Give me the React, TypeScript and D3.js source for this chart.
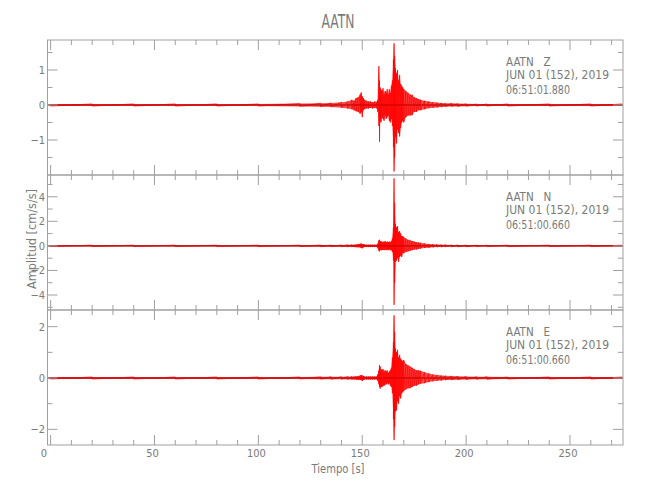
import React from "react";
import * as d3 from "d3";

// ---------- data ----------
const STATION = "AATN";
const COMPONENTS = ["Z", "N", "E"];
const DATE_LINE = "JUN 01 (152), 2019";
const START_TIMES = ["06:51:01.880", "06:51:00.660", "06:51:00.660"];

// sample times (s) at which the trace envelope was read
const TIME = [
  0, 20, 40, 60, 80, 100, 120, 130, 135, 140, 143, 145, 146, 147, 148, 149, 149.5, 150, 150.5, 151,
  152, 153, 154, 155, 156, 157, 157.5, 158, 158.3, 158.6, 159, 159.5, 160, 160.5, 161, 161.5, 162,
  162.5, 163, 163.5, 164, 164.5, 165, 165.3, 165.6, 166, 166.5, 167, 167.5, 168, 168.5, 169, 169.5,
  170, 171, 172, 173, 174, 175, 176, 177, 178, 180, 182, 184, 186, 188, 190, 193, 196, 200, 205,
  210, 220, 240, 260, 275,
];

// Z component envelope (cm/s/s)
const Z_UP = [
  0.03, 0.03, 0.03, 0.03, 0.03, 0.03, 0.04, 0.05, 0.06, 0.08, 0.1, 0.15, 0.12, 0.2, 0.22, 0.3, 0.36, 0.25, 0.2, 0.15,
  0.12, 0.1, 0.1, 0.08, 0.1, 0.09, 0.15, 1.11, 0.7, 0.5, 0.45, 0.4, 0.48, 0.3, 0.4, 0.35, 0.45,
  0.3, 0.45, 0.35, 0.55, 0.7, 1.3, 1.76, 1.4, 1.05, 0.9, 1.0, 0.7, 0.86, 0.6, 0.55, 0.5,
  0.45, 0.4, 0.35, 0.3, 0.29, 0.22, 0.2, 0.17, 0.15, 0.12, 0.1, 0.08, 0.07, 0.06, 0.05, 0.05, 0.04, 0.035, 0.03,
  0.03, 0.03, 0.03, 0.03, 0.03,
];
const Z_LO = [
  -0.03, -0.03, -0.03, -0.03, -0.03, -0.03, -0.04, -0.05, -0.06, -0.08, -0.1, -0.12, -0.15, -0.18, -0.2, -0.25, -0.2, -0.35, -0.15, -0.12,
  -0.1, -0.1, -0.08, -0.1, -0.08, -0.1, -0.2, -0.6, -1.05, -0.45, -0.5, -0.35, -0.4, -0.45, -0.3, -0.4, -0.35,
  -0.3, -0.45, -0.5, -0.4, -0.6, -1.2, -1.9, -1.5, -0.9, -1.1, -0.7, -0.8, -0.9, -0.65, -0.5, -0.45,
  -0.5, -0.35, -0.3, -0.3, -0.29, -0.2, -0.2, -0.15, -0.15, -0.12, -0.09, -0.08, -0.07, -0.06, -0.05, -0.04, -0.04, -0.035, -0.03,
  -0.03, -0.03, -0.03, -0.03, -0.03,
];

// N component envelope
const N_UP = [
  0.06, 0.06, 0.06, 0.06, 0.06, 0.06, 0.06, 0.07, 0.07, 0.08, 0.09, 0.1, 0.1, 0.12, 0.15, 0.17, 0.2, 0.15, 0.13, 0.12,
  0.1, 0.1, 0.1, 0.1, 0.1, 0.1, 0.2, 0.45, 0.5, 0.35, 0.4, 0.3, 0.35, 0.3, 0.4, 0.3, 0.35,
  0.3, 0.35, 0.3, 0.4, 0.6, 1.5, 5.5, 3.5, 1.8, 1.5, 1.6, 1.1, 1.2, 1.0, 0.8, 0.8,
  0.7, 0.6, 0.5, 0.45, 0.4, 0.35, 0.3, 0.27, 0.25, 0.2, 0.16, 0.13, 0.12, 0.1, 0.1, 0.08, 0.08, 0.07, 0.06,
  0.06, 0.06, 0.06, 0.06, 0.06,
];
const N_LO = [
  -0.06, -0.06, -0.06, -0.06, -0.06, -0.06, -0.06, -0.07, -0.07, -0.08, -0.09, -0.1, -0.1, -0.11, -0.12, -0.14, -0.15, -0.2, -0.12, -0.1,
  -0.1, -0.1, -0.1, -0.1, -0.1, -0.1, -0.2, -0.4, -0.45, -0.3, -0.35, -0.35, -0.3, -0.35, -0.3, -0.35, -0.3,
  -0.35, -0.3, -0.35, -0.35, -0.5, -1.2, -4.8, -3.0, -1.3, -1.2, -1.0, -1.3, -0.9, -0.8, -0.9, -0.6,
  -0.6, -0.5, -0.45, -0.4, -0.35, -0.3, -0.3, -0.25, -0.22, -0.18, -0.15, -0.12, -0.1, -0.1, -0.08, -0.08, -0.08, -0.07, -0.06,
  -0.06, -0.06, -0.06, -0.06, -0.06,
];

// E component envelope
const E_UP = [
  0.04, 0.04, 0.04, 0.04, 0.04, 0.04, 0.04, 0.045, 0.05, 0.05, 0.055, 0.06, 0.06, 0.07, 0.08, 0.1, 0.12, 0.1, 0.08, 0.06,
  0.06, 0.06, 0.06, 0.06, 0.06, 0.06, 0.15, 0.3, 0.5, 0.45, 0.35, 0.3, 0.35, 0.25, 0.3, 0.25, 0.3,
  0.2, 0.25, 0.3, 0.4, 0.8, 1.4, 2.44, 1.8, 1.15, 1.0, 1.1, 0.8, 0.9, 0.75, 0.7, 0.65,
  0.7, 0.55, 0.5, 0.45, 0.4, 0.35, 0.3, 0.3, 0.28, 0.22, 0.18, 0.14, 0.12, 0.1, 0.09, 0.08, 0.07, 0.06, 0.05,
  0.05, 0.04, 0.04, 0.04, 0.04,
];
const E_LO = [
  -0.04, -0.04, -0.04, -0.04, -0.04, -0.04, -0.04, -0.045, -0.05, -0.05, -0.055, -0.06, -0.06, -0.07, -0.08, -0.08, -0.08, -0.12, -0.08, -0.06,
  -0.06, -0.06, -0.06, -0.06, -0.06, -0.06, -0.12, -0.25, -0.35, -0.41, -0.35, -0.35, -0.3, -0.3, -0.25, -0.25, -0.2,
  -0.25, -0.2, -0.3, -0.35, -0.6, -1.6, -2.42, -1.9, -1.3, -1.26, -0.9, -1.0, -0.7, -0.8, -0.6, -0.55,
  -0.5, -0.45, -0.4, -0.4, -0.35, -0.3, -0.3, -0.25, -0.22, -0.2, -0.16, -0.13, -0.11, -0.1, -0.08, -0.08, -0.07, -0.06, -0.05,
  -0.05, -0.04, -0.04, -0.04, -0.04,
];

const UPPERS = [Z_UP, N_UP, E_UP];
const LOWERS = [Z_LO, N_LO, E_LO];

// axis ranges / ticks
const X_DOMAIN = [-1.5, 275.5];
const X_TICKS = [0, 50, 100, 150, 200, 250];
const Y_DOMAINS = [
  [-2.0, 1.857],
  [-5.22, 5.77],
  [-2.61, 2.65],
];
const Y_TICKS = [
  [-1, 0, 1],
  [-4, -2, 0, 2, 4],
  [-2, 0, 2],
];
const Y_MINOR_STEP = [0.5, 1, 1];
const TITLE = "AATN";
const X_LABEL = "Tiempo [s]";
const Y_LABEL = "Amplitud [cm/s/s]";

// ---------- layout ----------
const W = 650;
const H = 500;
const LEFT = 47.5;
const RIGHT = 623;
const PANEL_TOP = [40, 175, 310];
const PANEL_H = 135;
const AXIS = "#a0a0a0";
const TXT = "#7a7a7a";
const FONT = "'Liberation Sans Narrow', 'DejaVu Sans Condensed', 'Roboto', sans-serif";

const fmt = (v: number) => (v < 0 ? "\u2212" + Math.abs(v) : String(v));

export default function App() {
  const x = d3.scaleLinear().domain(X_DOMAIN).range([LEFT, RIGHT]);
  const xMinor = d3.range(0, 276, 10);

  return (
    <svg
      width={W}
      height={H}
      style={{ position: "absolute", left: 0, top: 0, background: "#fff" }}
      fontFamily={FONT}
    >
      <text x={338} y={28} textAnchor="middle" fontSize={19} fill={TXT} textLength={33} lengthAdjust="spacingAndGlyphs">
        {TITLE}
      </text>

      {COMPONENTS.map((comp, p) => {
        const top = PANEL_TOP[p];
        const bot = top + PANEL_H;
        const y = d3.scaleLinear().domain(Y_DOMAINS[p]).range([bot, top]);
        const up = UPPERS[p];
        const lo = LOWERS[p];
        const pts = TIME.map((t, i) => ({ t, u: up[i], l: lo[i] }));
        const area = d3
          .area<{ t: number; u: number; l: number }>()
          .x((d) => x(d.t))
          .y0((d) => y(d.l))
          .y1((d) => y(d.u))(pts);
        const zig: [number, number][] = [];
        pts.forEach((d) => {
          zig.push([x(d.t), y(d.u)]);
          zig.push([x(d.t), y(d.l)]);
        });
        const zigPath = d3.line()(zig);
        const [d0, d1] = Y_DOMAINS[p];
        const step = Y_MINOR_STEP[p];
        const yMinor = d3
          .range(Math.ceil(d0 / step) * step, d1 + 1e-9, step)
          .filter((v) => Math.abs(v - Math.round(v / (step * 2)) * step * 2) > 1e-6);
        const clipId = `clip${p}`;
        return (
          <g key={comp}>
            <defs>
              <clipPath id={clipId}>
                <rect x={LEFT} y={top} width={RIGHT - LEFT} height={PANEL_H} />
              </clipPath>
            </defs>
            <g clipPath={`url(#${clipId})`}>
              <line x1={LEFT} x2={RIGHT} y1={y(0)} y2={y(0)} stroke="#5a0000" strokeWidth={1} />
              <path d={area || ""} fill="#ff0000" fillOpacity={0.7} stroke="none" />
              <path d={zigPath || ""} fill="none" stroke="#ff0000" strokeWidth={0.7} />
              <line x1={LEFT} x2={RIGHT} y1={y(0)} y2={y(0)} stroke="#400000" strokeWidth={0.5} strokeOpacity={0.5} />
            </g>
            {/* frame */}
            <rect x={LEFT} y={top} width={RIGHT - LEFT} height={PANEL_H} fill="none" stroke={AXIS} strokeWidth={1} />
            {/* x ticks top and bottom */}
            {xMinor.map((t) => {
              const len = t % 50 === 0 ? 10 : 5;
              return (
                <g key={`xt${t}`} stroke={AXIS}>
                  <line x1={x(t)} x2={x(t)} y1={top} y2={top + len} />
                  <line x1={x(t)} x2={x(t)} y1={bot} y2={bot - len} />
                </g>
              );
            })}
            {/* y ticks left and right */}
            {Y_TICKS[p].map((v) => (
              <g key={`yt${v}`}>
                <line x1={LEFT} x2={LEFT + 10} y1={y(v)} y2={y(v)} stroke={AXIS} />
                <line x1={RIGHT} x2={RIGHT - 10} y1={y(v)} y2={y(v)} stroke={AXIS} />
                <text x={45} y={y(v) + 4} textAnchor="end" fontSize={11} fill={TXT}>
                  {fmt(v)}
                </text>
              </g>
            ))}
            {yMinor.map((v) => (
              <g key={`ym${v}`} stroke={AXIS}>
                <line x1={LEFT} x2={LEFT + 5} y1={y(v)} y2={y(v)} />
                <line x1={RIGHT} x2={RIGHT - 5} y1={y(v)} y2={y(v)} />
              </g>
            ))}
            {/* annotation */}
            <g fontSize={11.5} fill={TXT}>
              <text x={506} y={top + 26} style={{ whiteSpace: "pre" }} xmlSpace="preserve">
                {`${STATION}   ${comp}`}
              </text>
              <text x={506} y={top + 39} textLength={103} lengthAdjust="spacingAndGlyphs">
                {DATE_LINE}
              </text>
              <text x={506} y={top + 54} textLength={64} lengthAdjust="spacingAndGlyphs">
                {START_TIMES[p]}
              </text>
            </g>
          </g>
        );
      })}

      {/* x tick labels */}
      {X_TICKS.map((t) => (
        <text key={`xl${t}`} x={t === 0 ? 44 : x(t) - 2} y={457} textAnchor="middle" fontSize={11} fill={TXT}>
          {t}
        </text>
      ))}
      <text x={338} y={473} textAnchor="middle" fontSize={12} fill={TXT} textLength={53} lengthAdjust="spacingAndGlyphs">
        {X_LABEL}
      </text>
      <text
        transform="translate(36,239) rotate(-90)"
        textAnchor="middle"
        fontSize={12}
        fill={TXT}
        textLength={100}
        lengthAdjust="spacingAndGlyphs"
      >
        {Y_LABEL}
      </text>
    </svg>
  );
}
